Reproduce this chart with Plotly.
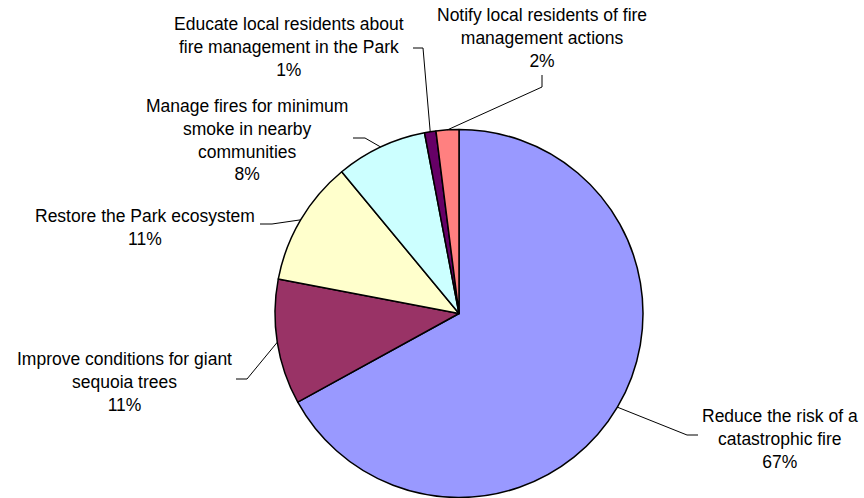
import math
import plotly.graph_objects as go

# ---- data ----
labels = [
    "Reduce the risk of a<br>catastrophic fire",
    "Improve conditions for giant<br>sequoia trees",
    "Restore the Park ecosystem",
    "Manage fires for minimum<br>smoke in nearby<br>communities",
    "Educate local residents about<br>fire management in the Park",
    "Notify local residents of fire<br>management actions",
]
values = [67, 11, 11, 8, 1, 2]
colors = ["#9999FF", "#993366", "#FFFFCC", "#CCFFFF", "#660066", "#FF8080"]

# ---- layout constants (pixels) ----
W, H = 864, 498
CX, CY, R = 459, 313.5, 184
# label centre positions and leader elbow / end points
label_pos = [(780, 438.5), (124, 382), (145, 227.5), (247, 140.5), (289, 47), (542, 38)]
elbows = [(687, 435), (247, 379), (272, 224), (365, 138), (423, 48), (542, 87)]
ends = [(698, 435), (236, 379), (260, 224), (353, 138), (413, 48), (542, 75)]


def px(x):
    return x / W


def py(y):
    return 1 - y / H


fig = go.Figure(
    go.Pie(
        labels=labels,
        values=values,
        sort=False,
        direction="clockwise",
        rotation=0,
        textinfo="none",
        hoverinfo="label+percent",
        marker=dict(colors=colors, line=dict(color="black", width=1.5)),
        domain=dict(x=[px(CX - R), px(CX + R)], y=[py(CY + R), py(CY - R)]),
        showlegend=False,
    )
)

total = sum(values)
cum = 0
annotations = []
shapes = []
for i, v in enumerate(values):
    mid = (cum + v / 2) / total * 2 * math.pi
    cum += v
    ax = CX + R * math.sin(mid)
    ay = CY - R * math.cos(mid)
    pct = round(v / total * 100)
    lx, ly = label_pos[i]
    annotations.append(
        dict(
            x=px(lx), y=py(ly), xref="paper", yref="paper",
            text=f"{labels[i]}<br>{pct}%",
            showarrow=False, xanchor="center", yanchor="middle", align="center",
            font=dict(family="Liberation Sans, Arial, sans-serif", size=17.5, color="black"),
        )
    )
    ex, ey = elbows[i]
    nx, ny = ends[i]
    shapes.append(
        dict(
            type="path", xref="paper", yref="paper",
            path=f"M {px(ax)} {py(ay)} L {px(ex)} {py(ey)} L {px(nx)} {py(ny)}",
            line=dict(color="black", width=1),
        )
    )

fig.update_layout(
    width=W, height=H,
    margin=dict(l=0, r=0, t=0, b=0),
    paper_bgcolor="white", plot_bgcolor="white",
    annotations=annotations,
    shapes=shapes,
)

fig.write_html("out.html")
